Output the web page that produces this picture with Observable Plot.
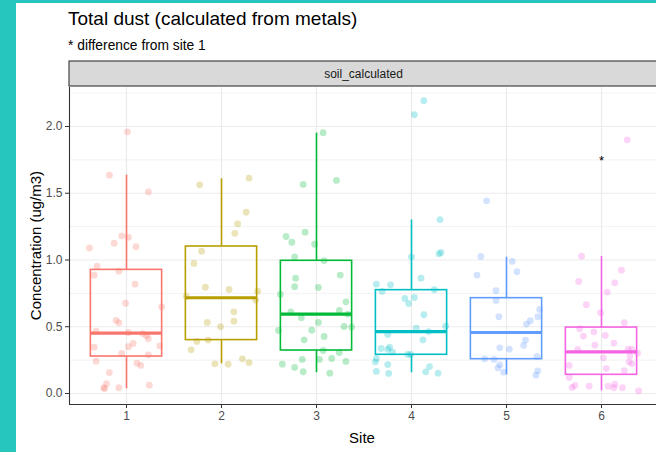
<!DOCTYPE html>
<html><head><meta charset="utf-8">
<script src="https://cdn.jsdelivr.net/npm/d3@7"></script>
<script src="https://cdn.jsdelivr.net/npm/@observablehq/plot@0.6"></script>
<style>
html,body{margin:0;padding:0;}
body{background:#26C6BE;width:656px;height:452px;overflow:hidden;position:relative;font-family:"Liberation Sans",Arial,sans-serif;}
#panel{position:absolute;left:16px;top:3px;width:640px;height:449px;background:#fff;overflow:hidden;}
#title{position:absolute;left:52px;top:5px;font-size:19px;color:#000;white-space:nowrap;line-height:1.15;}
#subtitle{position:absolute;left:52px;top:35px;font-size:13.8px;color:#000;white-space:nowrap;line-height:1.15;}
#chart{position:absolute;left:0;top:53px;width:660px;}
#chart svg{max-width:none !important;}
</style></head>
<body>
<div id="panel">
  <div id="title">Total dust (calculated from metals)</div>
  <div id="subtitle">* difference from site 1</div>
  <div id="chart"></div>
</div>
<script>
const sites = [1, 2, 3, 4, 5, 6];
const siteColors = ["#F8766D", "#B79F00", "#00BA38", "#00BFC4", "#619CFF", "#F564E3"];
const whiskerLow = [0.035, 0.222, 0.155, 0.155, 0.14, 0.02];
const boxQ1 = [0.277, 0.40, 0.322, 0.29, 0.257, 0.14];
const boxMedian = [0.452, 0.717, 0.594, 0.464, 0.457, 0.312];
const boxQ3 = [0.926, 1.101, 0.994, 0.774, 0.714, 0.494];
const whiskerHigh = [1.635, 1.608, 1.95, 1.30, 1.021, 1.026];
const yTicks = [0, 0.5, 1.0, 1.5, 2.0];
const yMinorTicks = [0.25, 0.75, 1.25, 1.75, 2.25];
const starSite = [6];
const starValue = [1.74];
const stripLabel = "soil_calculated";
const xLabel = "Site";
const yLabel = "Concentration (ug/m3)";

// jittered observations per site: [horizontal jitter (site units), concentration]
const site1 = [[0.01,1.96],[-0.18,1.635],[0.23,1.51],[-0.05,1.18],[0.02,1.17],[-0.13,1.126],[0.10,1.10],[-0.39,1.09],[-0.31,0.954],[-0.34,0.886],[-0.08,0.916],[0.09,0.819],[-0.01,0.676],[0.37,0.649],[-0.11,0.547],[-0.08,0.53],[0.02,0.457],[-0.32,0.467],[0.17,0.449],[0.21,0.432],[0.23,0.41],[0.07,0.375],[0.02,0.35],[-0.34,0.347],[0.35,0.357],[-0.05,0.30],[0.23,0.29],[-0.32,0.242],[0.11,0.227],[0.15,0.21],[-0.18,0.157],[-0.21,0.073],[-0.23,0.037],[-0.24,0.043],[-0.08,0.043],[0.24,0.062]];
const site2 = [[-0.23,1.563],[0.29,1.613],[0.26,1.358],[0.17,1.271],[0.14,1.20],[-0.21,1.066],[-0.29,0.974],[-0.17,0.796],[0.08,0.779],[0.38,0.766],[0.36,0.70],[-0.37,0.727],[0.13,0.612],[-0.15,0.532],[0.13,0.542],[-0.01,0.50],[-0.26,0.39],[-0.14,0.40],[-0.32,0.327],[-0.07,0.222],[0.07,0.219],[0.22,0.26],[0.29,0.232]];
const site3 = [[0.07,1.953],[-0.14,1.566],[0.21,1.596],[-0.32,1.176],[-0.26,1.133],[-0.12,1.208],[-0.02,1.118],[-0.23,1.024],[0.08,0.996],[-0.22,0.864],[0.25,0.887],[-0.23,0.80],[0.02,0.794],[-0.38,0.742],[0.31,0.687],[-0.27,0.612],[0.24,0.622],[0.33,0.594],[-0.16,0.567],[0.02,0.532],[-0.40,0.472],[-0.05,0.474],[0.29,0.502],[0.37,0.497],[0.08,0.427],[-0.13,0.402],[0.07,0.322],[0.24,0.307],[0.03,0.255],[-0.15,0.255],[0.16,0.262],[0.31,0.24],[-0.36,0.22],[-0.23,0.195],[-0.14,0.163],[0.14,0.152]];
const site4 = [[0.13,2.193],[0.03,2.088],[0.30,1.303],[0.00,1.024],[0.29,1.046],[0.31,1.056],[0.10,0.864],[-0.37,0.819],[-0.22,0.814],[-0.31,0.764],[0.24,0.777],[-0.07,0.712],[-0.03,0.674],[0.03,0.719],[0.13,0.59],[0.36,0.504],[0.05,0.489],[0.18,0.464],[-0.25,0.442],[0.12,0.402],[-0.32,0.337],[-0.23,0.347],[-0.25,0.33],[-0.20,0.31],[-0.04,0.292],[-0.01,0.292],[-0.37,0.262],[-0.38,0.237],[-0.25,0.217],[-0.37,0.165],[-0.24,0.15],[0.19,0.202],[0.15,0.162],[0.28,0.152]];
const site5 = [[-0.21,1.443],[-0.27,1.026],[0.06,0.989],[0.11,0.912],[-0.31,0.887],[-0.11,0.77],[-0.11,0.697],[0.35,0.629],[0.33,0.575],[-0.08,0.575],[0.25,0.545],[0.21,0.52],[0.20,0.40],[0.18,0.36],[-0.07,0.342],[0.03,0.332],[-0.23,0.26],[-0.13,0.255],[0.32,0.277],[-0.07,0.215],[-0.09,0.192],[-0.03,0.16],[0.33,0.17],[0.31,0.137]];
const site6 = [[0.27,1.90],[-0.21,1.028],[0.21,0.924],[-0.24,0.839],[0.14,0.829],[0.06,0.759],[-0.16,0.665],[-0.01,0.605],[0.24,0.53],[-0.23,0.485],[-0.08,0.462],[0.04,0.435],[-0.19,0.43],[0.13,0.378],[-0.07,0.362],[-0.25,0.33],[0.28,0.332],[0.32,0.33],[0.38,0.302],[0.30,0.282],[0.02,0.267],[0.29,0.237],[0.32,0.222],[-0.34,0.21],[0.05,0.187],[0.24,0.172],[-0.34,0.12],[-0.31,0.045],[-0.28,0.06],[-0.13,0.055],[0.07,0.055],[0.13,0.043],[0.14,0.07],[0.22,0.043],[0.39,0.02]];

const observations = [site1, site2, site3, site4, site5, site6];
const points = observations.flatMap((arr, i) => arr.map(([dx, v]) => ({site: sites[i], dx, value: v, color: siteColors[i]})));
const boxes = sites.map((s, i) => ({site: s, color: siteColors[i], lo: whiskerLow[i], q1: boxQ1[i], med: boxMedian[i], q3: boxQ3[i], hi: whiskerHigh[i]}));
const stars = starSite.map((s, i) => ({site: s, value: starValue[i]}));

const W = 660, H = 396;
const half = 0.375;
const yMin = -0.0824, yMax = 2.292;
const font = '"Liberation Sans", Arial, sans-serif';

const plot = Plot.plot({
  width: W, height: H,
  marginLeft: 53, marginRight: 18, marginTop: 31, marginBottom: 48,
  x: {domain: [0.4, 6.6]},
  y: {domain: [yMin, yMax]},
  color: {type: "identity"},
  style: {fontFamily: font, fontSize: "12px", background: "white", overflow: "visible", maxWidth: "none"},
  marks: [
    Plot.gridY(yMinorTicks, {stroke: "#ebebeb", strokeOpacity: 1, strokeWidth: 0.6}),
    Plot.gridY(yTicks, {stroke: "#ebebeb", strokeOpacity: 1, strokeWidth: 1.2}),
    Plot.gridX(sites, {stroke: "#ebebeb", strokeOpacity: 1, strokeWidth: 1.2}),
    Plot.axisY(yTicks, {tickFormat: d => d.toFixed(1), tickSize: 4, tickPadding: 3, stroke: "#333", fill: "#4d4d4d", label: null, fontSize: 12}),
    Plot.axisX(sites, {tickFormat: d => String(d), tickSize: 4, tickPadding: 3, stroke: "#333", fill: "#4d4d4d", label: null, fontSize: 12}),
    Plot.ruleX([0.4], {stroke: "#333", strokeWidth: 1.1}),
    Plot.ruleY([yMin], {stroke: "#333", strokeWidth: 1.1}),
    Plot.ruleX(boxes, {x: "site", y1: "q3", y2: "hi", stroke: "color", strokeWidth: 1.6}),
    Plot.ruleX(boxes, {x: "site", y1: "lo", y2: "q1", stroke: "color", strokeWidth: 1.6}),
    Plot.rect(boxes, {x1: d => d.site - half, x2: d => d.site + half, y1: "q1", y2: "q3", stroke: "color", fill: "none", strokeWidth: 1.6}),
    Plot.ruleY(boxes, {y: "med", x1: d => d.site - half, x2: d => d.site + half, stroke: "color", strokeWidth: 3.2}),
    Plot.dot(points, {x: d => d.site + d.dx, y: "value", r: 3.4, fill: "color", fillOpacity: 0.28, stroke: null}),
    Plot.text(stars, {x: "site", y: "value", text: () => "*", fontSize: 13, fill: "#000", lineAnchor: "middle"})
  ]
});
plot.style.maxWidth = "none";

const svg = d3.select(plot);
const xr = plot.scale("x").range;
svg.append("rect").attr("x", xr[0]).attr("y", 5).attr("width", xr[1] - xr[0]).attr("height", 25)
  .attr("fill", "#d9d9d9").attr("stroke", "#333").attr("stroke-width", 1.1);
svg.append("text").attr("x", 347.5).attr("y", 17.5).attr("text-anchor", "middle").attr("dominant-baseline", "central")
  .attr("font-size", 12).attr("fill", "#1a1a1a").attr("font-family", font).text(stripLabel);
const yr = plot.scale("y").range;
svg.append("text").attr("transform", `translate(19,${(yr[0] + yr[1]) / 2}) rotate(-90)`).attr("text-anchor", "middle")
  .attr("dominant-baseline", "central").attr("font-size", 15).attr("fill", "#000").attr("font-family", font).text(yLabel);
svg.append("text").attr("x", 346).attr("y", 381).attr("text-anchor", "middle").attr("dominant-baseline", "central")
  .attr("font-size", 15).attr("fill", "#000").attr("font-family", font).text(xLabel);

document.getElementById("chart").appendChild(plot);
</script>
</body></html>
